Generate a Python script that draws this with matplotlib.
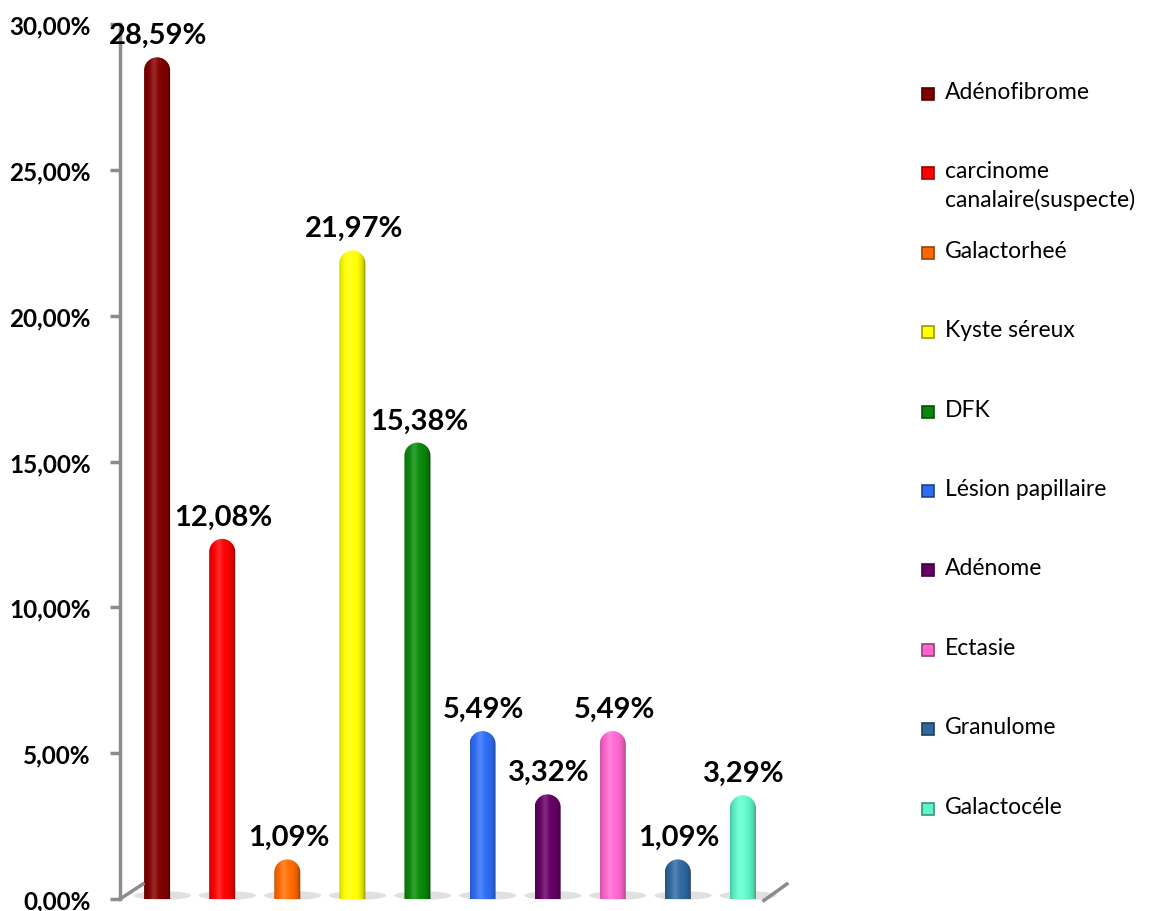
import numpy as np
import matplotlib
matplotlib.use("Agg")
import matplotlib.pyplot as plt
from matplotlib.path import Path
from matplotlib.patches import PathPatch, Ellipse, Rectangle
from matplotlib.ticker import FuncFormatter, MultipleLocator
from matplotlib.colors import to_rgb

# ---- data ----
categories = ["Adénofibrome", "carcinome\ncanalaire(suspecte)", "Galactorheé",
              "Kyste séreux", "DFK", "Lésion papillaire", "Adénome",
              "Ectasie", "Granulome", "Galactocéle"]
values = [28.59, 12.08, 1.09, 21.97, 15.38, 5.49, 3.32, 5.49, 1.09, 3.29]
colors = ["#800000", "#ff0000", "#ff6a00", "#ffff00", "#0a870a",
          "#2f6cf2", "#640064", "#ff66cc", "#2f679e", "#5ff5c8"]

plt.rcParams["font.family"] = ["Lato", "DejaVu Sans"]

W, H = 1165, 912
fig = plt.figure(figsize=(W / 100, H / 100), dpi=100)
ax_l, ax_r, ax_t, ax_b = 120, 780, 25, 900
ax = fig.add_axes([ax_l / W, 1 - ax_b / H, (ax_r - ax_l) / W, (ax_b - ax_t) / H])

x = np.arange(len(values))
xmin, xmax = -0.57, len(values) - 1 + 0.57
ymin, ymax = 0, 30
ax.set_xlim(xmin, xmax)
ax.set_ylim(ymin, ymax)

px_x = (ax_r - ax_l) / (xmax - xmin)
px_y = (ax_b - ax_t) / (ymax - ymin)
bw = 0.40
ry = (bw / 2) * px_x / px_y  # cap radius in y units


def capsule(cx, top):
    half = bw / 2
    body = max(top - ry, 0.0)
    theta = np.linspace(np.pi, 0, 40)
    xs = [cx - half, cx - half] + list(cx + half * np.cos(theta)) + [cx + half, cx - half]
    ys = [0, body] + list(body + ry * np.sin(theta)) + [0, 0]
    return Path(np.column_stack([xs, ys]))


# cylinder shading profile across the bar width
t = np.linspace(-1, 1, 120)
lum = 0.62 + 0.42 * np.sqrt(np.clip(1 - (t + 0.1) ** 2, 0, 1))
spec = 0.16 * np.exp(-((t + 0.25) / 0.25) ** 2)

for xi, v, c in zip(x, values, colors):
    # floor shadow
    ax.add_patch(Ellipse((xi + 0.08, 0.12), bw * 2.2, 0.3, color="#c8c8c8",
                         alpha=0.55, lw=0, zorder=1, clip_on=False))
    base = np.array(to_rgb(c))
    shade = np.clip(base[None, :] * lum[:, None], 0, 1)
    shade = shade + (1 - shade) * spec[:, None]
    img = np.repeat(shade[None, :, :], 2, axis=0)
    top = v + ry * 0.6
    patch = PathPatch(capsule(xi, top), facecolor="none", edgecolor="none")
    ax.add_patch(patch)
    im = ax.imshow(img, extent=(xi - bw / 2, xi + bw / 2, 0, top), aspect="auto",
                   interpolation="bilinear", zorder=2)
    im.set_clip_path(patch)
    label = f"{v:.2f}".replace(".", ",") + "%"
    ax.annotate(label, (xi, v), xytext=(1, 21.5), textcoords="offset points",
                ha="center", va="center", fontsize=21, fontweight="bold",
                color="black", zorder=5)

ax.set_xlim(xmin, xmax)
ax.set_ylim(ymin, ymax)

# axes styling
for s in ["top", "right", "bottom"]:
    ax.spines[s].set_visible(False)
ax.spines["left"].set_color("#8c8c8c")
ax.spines["left"].set_linewidth(2.5)
ax.set_xticks([])
ax.yaxis.set_major_locator(MultipleLocator(5))
ax.yaxis.set_major_formatter(FuncFormatter(lambda y, _: f"{y:.2f}".replace(".", ",") + "%"))
ax.tick_params(axis="y", length=7, width=2.5, color="#8c8c8c", labelsize=17.5, pad=14)
for lab in ax.get_yticklabels():
    lab.set_fontweight("bold")

# floor edges
fx0 = 23 / px_x
fy0 = 15 / px_y
ax.plot([xmin, xmin + fx0], [0, fy0], color="#8c8c8c", lw=2.5, clip_on=False)
ax.plot([xmax - fx0 * 0.7, xmax + fx0 * 0.3], [-0.05, fy0], color="#8c8c8c", lw=2.5, clip_on=False)

# legend
leg_x_mark, leg_x_text = 928, 945
leg_y0, leg_dy = 95, 79.4
for i, (name, c) in enumerate(zip(categories, colors)):
    yy = leg_y0 + i * leg_dy
    fig.patches.append(Rectangle(
        ((leg_x_mark - 6) / W, 1 - (yy + 6) / H), 12 / W, 12 / H,
        transform=fig.transFigure, facecolor=c,
        edgecolor=tuple(np.array(to_rgb(c)) * 0.6), lw=1.2))
    fig.text(leg_x_text / W, 1 - (yy - 13) / H, name, fontsize=16.5,
             ha="left", va="top", linespacing=1.35, color="black")

fig.savefig("out.png", dpi=100, facecolor="white")
